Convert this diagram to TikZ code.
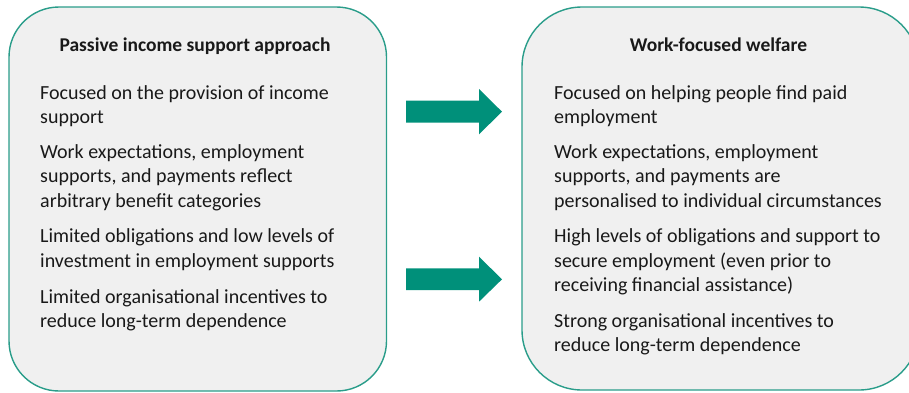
\documentclass[tikz,border=0pt]{standalone}
\usepackage{fontspec}
\setmainfont{Carlito}
\definecolor{tealborder}{HTML}{2A9D8A}
\definecolor{tealarrow}{HTML}{00907A}
\definecolor{boxfill}{HTML}{F0F0F0}
\newcommand{\plines}[1]{\parbox[t]{380pt}{\raggedright #1}}
\begin{document}
\begin{tikzpicture}[x=1pt,y=-1pt,
  panel/.style={draw=tealborder, fill=boxfill, line width=1.4pt, rectangle, inner sep=0pt},
  para/.style={anchor=base west, inner sep=0pt, font=\fontsize{20}{24.5}\selectfont, text=black!90},
  heading/.style={anchor=base, inner sep=0pt, font=\fontsize{19.5}{24}\selectfont\bfseries, text=black!90},
  blockarrow/.style={fill=tealarrow, draw=none}]
\useasboundingbox (0,0) rectangle (909,392);
\node[panel, rounded corners=50pt, minimum width=377.5pt, minimum height=384pt] (left) at (197.75,199) {};
\node[panel, rounded corners=60pt, minimum width=397pt, minimum height=383pt] (right) at (720.5,198.5) {};
\node[heading] (lt) at (195,51) {Passive income support approach};
\node[heading] (rt) at (718.5,51) {Work-focused welfare};
\node[para] (l1) at (40,99.3) {\plines{Focused on the provision of income\\support}};
\node[para] (l2) at (40,158.3) {\plines{Work expectations, employment\\supports, and payments reflect\\arbitrary benefit categories}};
\node[para] (l3) at (40,242.5) {\plines{Limited obligations and low levels of\\investment in employment supports}};
\node[para] (l4) at (40,303.3) {\plines{Limited organisational incentives to\\reduce long-term dependence}};
\node[para] (r1) at (554,99.3) {\plines{Focused on helping people find paid\\employment}};
\node[para] (r2) at (554,158.3) {\plines{Work expectations, employment\\supports, and payments are\\personalised to individual circumstances}};
\node[para] (r3) at (554,242.5) {\plines{High levels of obligations and support to\\secure employment (even prior to\\receiving financial assistance)}};
\node[para] (r4) at (554,327) {\plines{Strong organisational incentives to\\reduce long-term dependence}};
\fill[blockarrow] (406,100.7) -- (479,100.7) -- (479,89) -- (502,111.7) -- (479,134.3) -- (479,122.7) -- (406,122.7) -- cycle;
\fill[blockarrow] (406,268.3) -- (479,268.3) -- (479,256.7) -- (502,279.3) -- (479,301.7) -- (479,290) -- (406,290) -- cycle;
\end{tikzpicture}
\end{document}
